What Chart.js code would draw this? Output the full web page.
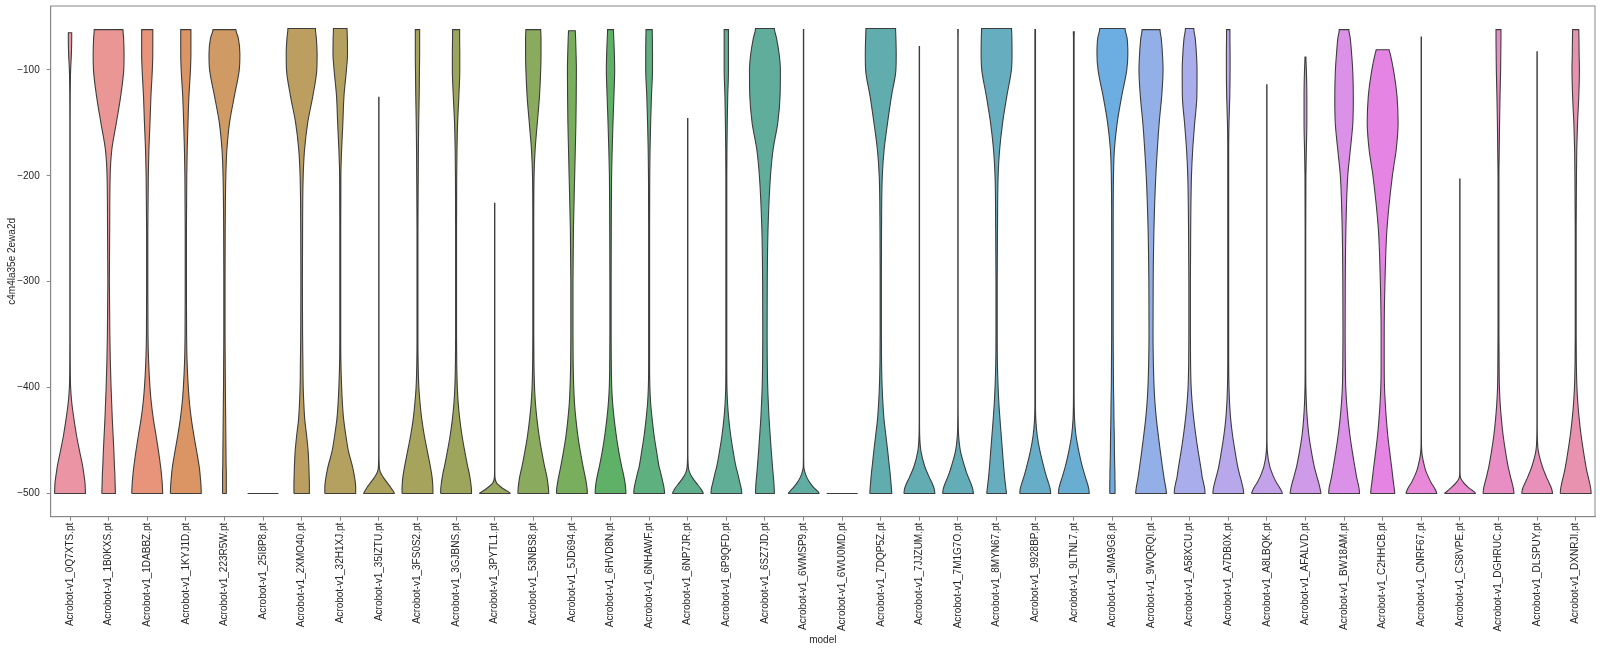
<!DOCTYPE html>
<html>
<head>
<meta charset="utf-8">
<script src="https://cdn.jsdelivr.net/npm/chart.js@4.4.1/dist/chart.umd.min.js"></script>
<style>
  body { margin: 0; background: #fff; }
</style>
</head>
<body>
<canvas id="violins" width="1600" height="653"></canvas>
<script>
const models = [
  "Acrobot-v1_0Q7XTS.pt", "Acrobot-v1_1B0KXS.pt", "Acrobot-v1_1DABBZ.pt", "Acrobot-v1_1KYJ1D.pt",
  "Acrobot-v1_223R5W.pt", "Acrobot-v1_25I8P8.pt", "Acrobot-v1_2XMO40.pt", "Acrobot-v1_32H1XJ.pt",
  "Acrobot-v1_35IZTU.pt", "Acrobot-v1_3FS0S2.pt", "Acrobot-v1_3GJBNS.pt", "Acrobot-v1_3PYTL1.pt",
  "Acrobot-v1_53NBS8.pt", "Acrobot-v1_5JD694.pt", "Acrobot-v1_6HVD8N.pt", "Acrobot-v1_6NHAWF.pt",
  "Acrobot-v1_6NP7JR.pt", "Acrobot-v1_6P9QFD.pt", "Acrobot-v1_6SZ7JD.pt", "Acrobot-v1_6WMSP9.pt",
  "Acrobot-v1_6WU0MD.pt", "Acrobot-v1_7DQP5Z.pt", "Acrobot-v1_7JJZUM.pt", "Acrobot-v1_7M1G7O.pt",
  "Acrobot-v1_8MYN67.pt", "Acrobot-v1_9928BP.pt", "Acrobot-v1_9LTNL7.pt", "Acrobot-v1_9MA9G8.pt",
  "Acrobot-v1_9WQRQI.pt", "Acrobot-v1_A58XCU.pt", "Acrobot-v1_A7DB0X.pt", "Acrobot-v1_A8LBQK.pt",
  "Acrobot-v1_AFALVD.pt", "Acrobot-v1_BW18AM.pt", "Acrobot-v1_C2HHCB.pt", "Acrobot-v1_CNRF67.pt",
  "Acrobot-v1_CS8VPE.pt", "Acrobot-v1_DGHRUC.pt", "Acrobot-v1_DLSPUY.pt", "Acrobot-v1_DXNRJI.pt"
];

const yTicks = [-500, -400, -300, -200, -100];

// reward levels at which the violin widths were read (1 = widest violin)
const levels = [-500, -495, -490, -485, -480, -475, -460, -445, -430, -415, -400,
                -375, -350, -300, -250, -200, -175, -150, -125, -100, -85, -70];

// highest reward of each model and violin width at that top edge
const tops = [-65, -62, -62, -62, -62, -500, -61, -61, -126, -62, -62, -226, -62, -63, -62, -62,
              -146, -62, -61, -62, -500, -61, -78, -62, -61, -62, -64, -61, -62, -61, -62, -114,
              -88, -62, -81, -69, -203, -62, -83, -62];
const topWidths = [0.11, 0.93, 0.36, 0.33, 0.74, 1.0, 0.89, 0.44, 0.01, 0.14, 0.23, 0.01, 0.48, 0.22, 0.19, 0.2,
                   0.01, 0.14, 0.61, 0.01, 1.0, 0.96, 0.01, 0.015, 0.97, 0.02, 0.03, 0.82, 0.58, 0.27, 0.11, 0.01,
                   0.03, 0.31, 0.42, 0.01, 0.01, 0.16, 0.01, 0.2];

const widths = [
  [1.0,0.99,0.97,0.93,0.88,0.83,0.62,0.42,0.26,0.12,0.04,0.015,0.01,0.01,0.01,0.01,0.01,0.01,0.015,0.04,0.09,0.11],
  [0.44,0.43,0.42,0.41,0.4,0.38,0.34,0.29,0.24,0.2,0.16,0.11,0.08,0.05,0.07,0.1,0.21,0.5,0.78,0.98,1.0,0.97],
  [1.0,0.99,0.97,0.94,0.91,0.87,0.73,0.57,0.4,0.27,0.18,0.09,0.05,0.04,0.04,0.07,0.11,0.18,0.24,0.33,0.36,0.36],
  [1.0,0.99,0.97,0.94,0.91,0.87,0.7,0.52,0.36,0.24,0.16,0.08,0.05,0.04,0.04,0.06,0.09,0.14,0.2,0.3,0.33,0.33],
  [0.12,0.12,0.12,0.12,0.12,0.11,0.1,0.09,0.08,0.07,0.06,0.05,0.04,0.04,0.05,0.09,0.16,0.33,0.64,0.96,1.0,0.9],
  [1.0,0,0,0,0,0,0,0,0,0,0,0,0,0,0,0,0,0,0,0,0,0],
  [0.5,0.5,0.5,0.49,0.48,0.47,0.42,0.32,0.2,0.14,0.1,0.08,0.06,0.05,0.06,0.1,0.19,0.39,0.72,0.98,1.0,0.95],
  [1.0,1.0,0.98,0.93,0.87,0.8,0.53,0.36,0.22,0.14,0.09,0.04,0.03,0.03,0.03,0.04,0.09,0.17,0.24,0.4,0.47,0.46],
  [1.0,0.8,0.55,0.3,0.1,0.03,0.01,0.01,0.01,0.01,0.01,0.01,0.01,0.01,0.01,0.01,0.01,0.01,0.01,0.01,0.01,0.01],
  [1.0,1.0,0.98,0.95,0.9,0.84,0.64,0.44,0.28,0.17,0.09,0.04,0.03,0.03,0.03,0.05,0.06,0.08,0.11,0.13,0.14,0.14],
  [1.0,0.99,0.95,0.9,0.84,0.76,0.56,0.38,0.24,0.14,0.08,0.04,0.03,0.03,0.03,0.04,0.06,0.1,0.18,0.24,0.24,0.23],
  [1.0,0.5,0.12,0.02,0.01,0.01,0.01,0.01,0.01,0.01,0.01,0.01,0.01,0.01,0.01,0.01,0.01,0.01,0.01,0.01,0.01,0.01],
  [1.0,0.98,0.94,0.89,0.82,0.74,0.54,0.37,0.24,0.14,0.08,0.04,0.03,0.03,0.03,0.05,0.12,0.26,0.4,0.48,0.5,0.5],
  [1.0,0.98,0.93,0.87,0.8,0.73,0.54,0.38,0.26,0.17,0.12,0.08,0.07,0.07,0.1,0.18,0.22,0.26,0.28,0.29,0.27,0.24],
  [1.0,0.98,0.94,0.88,0.81,0.73,0.53,0.37,0.24,0.14,0.08,0.05,0.04,0.04,0.05,0.07,0.11,0.16,0.22,0.27,0.25,0.21],
  [1.0,0.97,0.9,0.82,0.74,0.65,0.48,0.32,0.2,0.1,0.05,0.03,0.03,0.03,0.03,0.04,0.06,0.1,0.15,0.22,0.22,0.21],
  [1.0,0.82,0.55,0.3,0.12,0.04,0.01,0.01,0.01,0.01,0.01,0.01,0.01,0.01,0.01,0.01,0.01,0.01,0.01,0.01,0.01,0.01],
  [1.0,0.96,0.88,0.8,0.72,0.63,0.44,0.28,0.16,0.08,0.04,0.03,0.03,0.03,0.03,0.03,0.04,0.06,0.09,0.14,0.14,0.14],
  [0.61,0.6,0.58,0.55,0.52,0.49,0.41,0.34,0.27,0.22,0.18,0.15,0.14,0.15,0.2,0.36,0.53,0.83,0.98,1.0,0.92,0.75],
  [1.0,0.7,0.42,0.22,0.09,0.02,0.01,0.01,0.01,0.01,0.01,0.01,0.01,0.01,0.01,0.01,0.01,0.01,0.01,0.01,0.01,0.01],
  [1.0,0,0,0,0,0,0,0,0,0,0,0,0,0,0,0,0,0,0,0,0,0],
  [0.71,0.69,0.66,0.63,0.6,0.56,0.45,0.33,0.21,0.14,0.09,0.05,0.04,0.04,0.05,0.1,0.22,0.44,0.69,0.98,1.0,0.98],
  [1.0,0.95,0.82,0.65,0.5,0.36,0.1,0.02,0.01,0.01,0.01,0.01,0.01,0.01,0.01,0.01,0.01,0.01,0.01,0.01,0.01,0.01],
  [1.0,0.94,0.82,0.68,0.55,0.44,0.16,0.04,0.015,0.01,0.01,0.01,0.01,0.01,0.01,0.01,0.01,0.01,0.01,0.01,0.01,0.01],
  [0.64,0.6,0.56,0.52,0.49,0.46,0.38,0.3,0.22,0.15,0.1,0.05,0.04,0.04,0.06,0.1,0.2,0.39,0.66,0.96,1.0,0.99],
  [1.0,0.96,0.86,0.75,0.65,0.56,0.31,0.13,0.04,0.02,0.02,0.02,0.02,0.02,0.02,0.02,0.02,0.02,0.02,0.02,0.02,0.02],
  [1.0,0.96,0.87,0.76,0.66,0.56,0.32,0.14,0.05,0.025,0.02,0.02,0.02,0.02,0.02,0.02,0.02,0.02,0.02,0.02,0.02,0.02],
  [0.17,0.17,0.17,0.16,0.16,0.15,0.13,0.12,0.1,0.09,0.07,0.06,0.05,0.05,0.05,0.07,0.13,0.31,0.6,0.93,1.0,0.95],
  [1.0,0.96,0.9,0.84,0.79,0.74,0.6,0.47,0.35,0.26,0.2,0.15,0.13,0.14,0.19,0.31,0.41,0.53,0.69,0.78,0.74,0.66],
  [1.0,0.97,0.9,0.82,0.77,0.72,0.55,0.4,0.27,0.17,0.1,0.06,0.05,0.05,0.07,0.12,0.2,0.33,0.47,0.48,0.44,0.36],
  [1.0,0.96,0.88,0.79,0.7,0.62,0.44,0.28,0.16,0.09,0.05,0.03,0.03,0.03,0.03,0.03,0.03,0.05,0.1,0.12,0.12,0.11],
  [1.0,0.85,0.64,0.46,0.32,0.2,0.03,0.01,0.01,0.01,0.01,0.01,0.01,0.01,0.01,0.01,0.01,0.01,0.01,0.01,0.01,0.01],
  [1.0,0.94,0.86,0.76,0.67,0.58,0.38,0.22,0.12,0.06,0.03,0.02,0.02,0.02,0.02,0.03,0.06,0.09,0.09,0.06,0,0],
  [1.0,0.97,0.9,0.82,0.76,0.7,0.53,0.38,0.26,0.17,0.11,0.08,0.07,0.08,0.12,0.24,0.41,0.57,0.6,0.56,0.49,0.4],
  [0.78,0.75,0.7,0.66,0.62,0.58,0.45,0.33,0.24,0.17,0.12,0.1,0.1,0.15,0.28,0.63,0.88,1.0,0.93,0.7,0.49,0],
  [1.0,0.86,0.65,0.48,0.33,0.22,0.03,0.01,0.01,0.01,0.01,0.01,0.01,0.01,0.01,0.01,0.01,0.01,0.01,0.01,0.01,0.01],
  [1.0,0.6,0.25,0.04,0.01,0.01,0.01,0.01,0.01,0.01,0.01,0.01,0.01,0.01,0.01,0.01,0.01,0.01,0.01,0.01,0.01,0.01],
  [1.0,0.96,0.88,0.79,0.71,0.63,0.45,0.3,0.19,0.11,0.06,0.04,0.03,0.03,0.03,0.03,0.05,0.07,0.1,0.14,0.15,0.16],
  [1.0,0.93,0.78,0.62,0.48,0.35,0.08,0.015,0.01,0.01,0.01,0.01,0.01,0.01,0.01,0.01,0.01,0.01,0.01,0.01,0.01,0.01],
  [1.0,0.97,0.9,0.82,0.74,0.67,0.5,0.35,0.23,0.14,0.08,0.04,0.03,0.03,0.03,0.05,0.07,0.12,0.2,0.24,0.22,0.21]
];

// seaborn-like husl palette, desaturated and lightened a bit
const M = [[3.2406, -1.5372, -0.4986], [-0.9689, 1.8758, 0.0415], [0.0557, -0.2040, 1.0570]];
function maxChroma(L, H) {
  const hrad = H / 180 * Math.PI, sinH = Math.sin(hrad), cosH = Math.cos(hrad);
  const sub1 = Math.pow(L + 16, 3) / 1560896;
  const sub2 = sub1 > 0.008856 ? sub1 : L / 903.3;
  let result = Infinity;
  for (const [m1, m2, m3] of M) {
    const top = (0.99915 * m1 + 1.05122 * m2 + 1.14460 * m3) * sub2;
    const bottom = ((0.86330 * m3 - 0.17266 * m2) * sinH + (0.12949 * m3 - 0.38848 * m1) * cosH) * sub2;
    for (const t of [0, 1]) {
      const C = L * (top - 1.05122 * t) / (bottom + 0.17266 * sinH * t);
      if (C > 0 && C < result) result = C;
    }
  }
  return result;
}
function huslColor(H, S, L) {
  const C = maxChroma(L, H) / 100 * S;
  const hrad = H / 180 * Math.PI;
  const U = Math.cos(hrad) * C, V = Math.sin(hrad) * C;
  const t = (L + 16) / 116;
  const Y = t * t * t > 0.008856 ? t * t * t : (116 * t - 16) / 903.3;
  const varU = U / (13 * L) + 0.19784, varV = V / (13 * L) + 0.46834;
  const X = -(9 * Y * varU) / ((varU - 4) * varV - varU * varV);
  const Z = (9 * Y - 15 * varV * Y - varV * X) / (3 * varV);
  let rgb = M.map(r => {
    const c = r[0] * X + r[1] * Y + r[2] * Z;
    const v = c <= 0.0031308 ? 12.92 * c : 1.055 * Math.pow(c, 1 / 2.4) - 0.055;
    return Math.min(1, Math.max(0, v));
  });
  const l = (Math.max(...rgb) + Math.min(...rgb)) / 2;
  rgb = rgb.map(c => Math.round(((l + 0.75 * (c - l)) * 0.85 + 0.15) * 255));
  return `rgb(${rgb[0]},${rgb[1]},${rgb[2]})`;
}
const colors = models.map((m, i) => huslColor(((i / models.length + 0.01) % 1) * 359, 89.1, 64.35));

function violinPoints(i) {
  const ys = [], ws = [];
  levels.forEach((y, k) => {
    if (y < tops[i]) { ys.push(y); ws.push(widths[i][k]); }
  });
  ys.push(tops[i]);
  ws.push(tops[i] <= -500 ? widths[i][0] : topWidths[i]);
  const left = ys.map((y, k) => ({ x: i - ws[k] * 0.4, y: y }));
  const right = ys.map((y, k) => ({ x: i + ws[k] * 0.4, y: y })).reverse();
  return left.concat(right, [left[0]]);
}

const datasets = models.map((m, i) => ({
  label: m,
  data: violinPoints(i),
  indexAxis: 'y',
  showLine: true,
  fill: 'shape',
  backgroundColor: colors[i],
  borderColor: '#3d3d3d',
  borderWidth: 1.1,
  pointRadius: 0,
  cubicInterpolationMode: 'monotone'
}));

const frame = {
  id: 'frame',
  afterDraw(chart) {
    const { ctx, chartArea: a } = chart;
    ctx.save();
    ctx.strokeStyle = '#888';
    ctx.lineWidth = 1;
    ctx.strokeRect(a.left, a.top, a.right - a.left, a.bottom - a.top);
    ctx.restore();
  }
};

Chart.defaults.font.family = "'Liberation Sans', Arial, sans-serif";
Chart.defaults.font.size = 10;
Chart.defaults.color = '#262626';

new Chart(document.getElementById('violins'), {
  type: 'scatter',
  data: { datasets: datasets },
  options: {
    responsive: false,
    animation: false,
    layout: { padding: { top: 6, right: 5, left: 0, bottom: 0 } },
    plugins: { legend: { display: false }, tooltip: { enabled: false } },
    scales: {
      x: {
        type: 'linear',
        position: 'bottom',
        min: -0.5,
        max: models.length - 0.5,
        afterFit: axis => { axis.height = 136.3; },
        afterBuildTicks: axis => { axis.ticks = models.map((m, i) => ({ value: i })); },
        grid: { display: true, drawOnChartArea: false, tickLength: 4, color: '#888' },
        border: { color: '#888' },
        ticks: {
          autoSkip: false,
          minRotation: 90,
          maxRotation: 90,
          padding: 2,
          callback: v => models[v]
        },
        title: { display: true, text: 'model', padding: { top: 0, bottom: 7 } }
      },
      y: {
        type: 'linear',
        position: 'left',
        min: -521.9,
        max: -39.7,
        afterFit: axis => {
          axis.width = 50.7;
          axis.paddingTop = 0;
          axis.paddingBottom = 0;
        },
        afterBuildTicks: axis => { axis.ticks = yTicks.map(v => ({ value: v })); },
        grid: { display: true, drawOnChartArea: false, tickLength: 4, color: '#888' },
        border: { color: '#888' },
        ticks: { padding: 7, callback: v => '\u2212' + Math.abs(v) },
        title: { display: true, text: 'c4m4la35e 2ewa2d', padding: { top: 6, bottom: 0 } }
      }
    }
  },
  plugins: [frame]
});
</script>
</body>
</html>
